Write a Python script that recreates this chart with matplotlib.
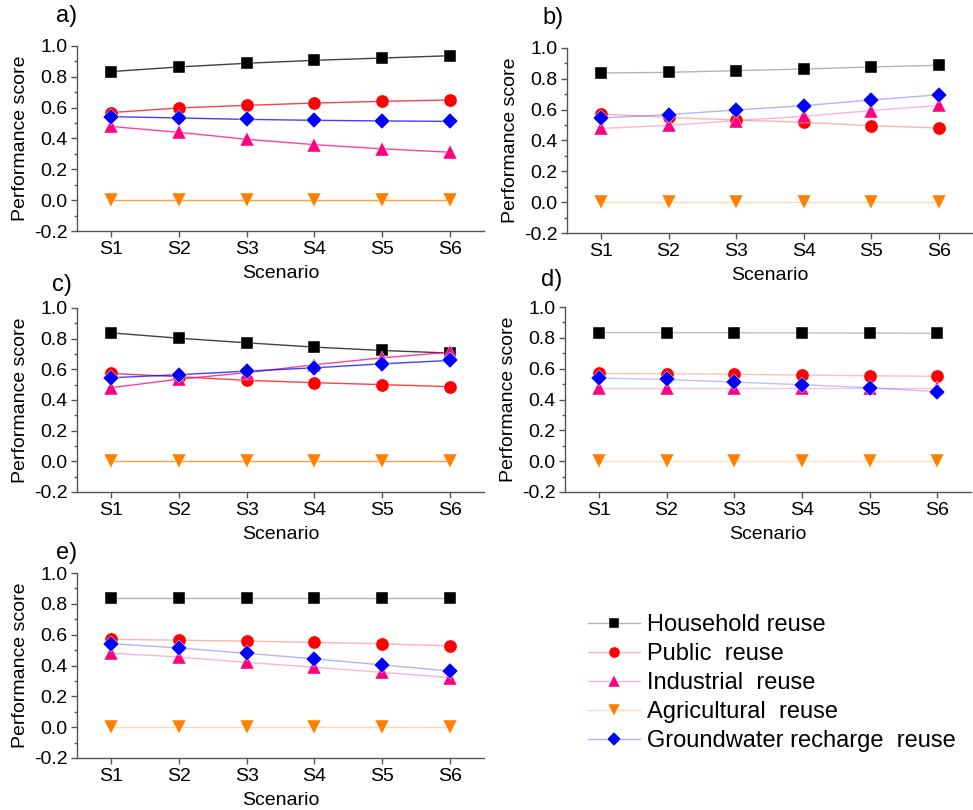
import numpy as np
import matplotlib.pyplot as plt
from matplotlib.ticker import MultipleLocator
from matplotlib.lines import Line2D
from matplotlib.colors import to_rgba

plt.rcParams['font.family'] = ['Liberation Sans', 'DejaVu Sans']

scenarios = ['S1', 'S2', 'S3', 'S4', 'S5', 'S6']
series_names = ['Household reuse', 'Public  reuse', 'Industrial  reuse',
                'Agricultural  reuse', 'Groundwater recharge  reuse']
panel_labels = ['a)', 'b)', 'c)', 'd)', 'e)']

# performance scores per panel (household, public, industrial, agricultural, groundwater)
household_a = [0.834, 0.864, 0.888, 0.907, 0.922, 0.937]
public_a = [0.568, 0.598, 0.615, 0.630, 0.641, 0.650]
industrial_a = [0.478, 0.440, 0.395, 0.360, 0.333, 0.311]
agricultural_a = [0.0, 0.0, 0.0, 0.0, 0.0, 0.0]
groundwater_a = [0.542, 0.533, 0.524, 0.518, 0.514, 0.511]

household_b = [0.838, 0.842, 0.853, 0.864, 0.877, 0.888]
public_b = [0.572, 0.550, 0.533, 0.518, 0.496, 0.481]
industrial_b = [0.478, 0.498, 0.529, 0.557, 0.594, 0.628]
agricultural_b = [0.0, 0.0, 0.0, 0.0, 0.0, 0.0]
groundwater_b = [0.546, 0.568, 0.598, 0.626, 0.663, 0.697]

household_c = [0.838, 0.803, 0.773, 0.745, 0.723, 0.706]
public_c = [0.573, 0.552, 0.528, 0.513, 0.500, 0.487]
industrial_c = [0.480, 0.536, 0.578, 0.630, 0.675, 0.712]
agricultural_c = [0.0, 0.0, 0.0, 0.0, 0.0, 0.0]
groundwater_c = [0.545, 0.565, 0.588, 0.610, 0.636, 0.658]

household_d = [0.834, 0.834, 0.833, 0.832, 0.831, 0.829]
public_d = [0.569, 0.567, 0.564, 0.558, 0.554, 0.550]
industrial_d = [0.477, 0.477, 0.477, 0.477, 0.477, 0.477]
agricultural_d = [0.0, 0.0, 0.0, 0.0, 0.0, 0.0]
groundwater_d = [0.539, 0.530, 0.513, 0.496, 0.476, 0.451]

household_e = [0.838, 0.838, 0.838, 0.838, 0.838, 0.838]
public_e = [0.570, 0.564, 0.558, 0.550, 0.541, 0.527]
industrial_e = [0.480, 0.455, 0.420, 0.389, 0.355, 0.322]
agricultural_e = [0.0, 0.0, 0.0, 0.0, 0.0, 0.0]
groundwater_e = [0.542, 0.514, 0.479, 0.443, 0.404, 0.364]

panels = [
    [household_a, public_a, industrial_a, agricultural_a, groundwater_a],
    [household_b, public_b, industrial_b, agricultural_b, groundwater_b],
    [household_c, public_c, industrial_c, agricultural_c, groundwater_c],
    [household_d, public_d, industrial_d, agricultural_d, groundwater_d],
    [household_e, public_e, industrial_e, agricultural_e, groundwater_e],
]

colors = ['black', '#ff0000', '#ff0080', '#ff8000', '#0000ff']
markers = ['s', 'o', '^', 'v', 'D']
msizes = [8.5, 9.5, 10, 10, 8.5]
# lines look fainter in b, d, e
line_alpha = [0.75, 0.3, 0.75, 0.25, 0.3]

W, H = 973, 810
# axes boxes in pixels: left, top, right, bottom
boxes = [(77, 46, 484, 231), (567, 48, 973, 233),
         (77, 308, 484, 492), (565, 307, 971, 492),
         (77, 573, 484, 758)]
label_pos = [(67, 16), (553, 18), (62, 285), (552, 280), (67, 553)]

fig = plt.figure(figsize=(W / 100, H / 100), dpi=100)
x = np.arange(1, 7)
yt = np.round(np.arange(-0.2, 1.01, 0.2), 1)

for p, (vals, box) in enumerate(zip(panels, boxes)):
    l, t, r, b = box
    ax = fig.add_axes([l / W, 1 - b / H, (r - l) / W, (b - t) / H])
    for i, v in enumerate(vals):
        ax.plot(x, v, color=colors[i], lw=1.0, alpha=line_alpha[p], zorder=2)
        ax.plot(x, v, ls='none', marker=markers[i], ms=msizes[i],
                color=colors[i], mec='white', mew=0.3, zorder=3)
    ax.set_xlim(0.5, 6.5)
    ax.set_ylim(-0.2, 1.0)
    ax.set_xticks(x)
    ax.set_xticklabels(scenarios)
    ax.set_yticks(yt)
    ax.set_yticklabels(['%.1f' % y for y in yt])
    ax.yaxis.set_minor_locator(MultipleLocator(0.1))
    ax.spines['top'].set_visible(False)
    ax.spines['right'].set_visible(False)
    for s in ['left', 'bottom']:
        ax.spines[s].set_color('#555555')
        ax.spines[s].set_linewidth(1.0)
    ax.tick_params(axis='both', which='major', direction='out', length=4,
                   width=1, color='#555555', labelsize=14, pad=3)
    ax.tick_params(axis='y', which='minor', direction='out', length=2.5,
                   width=1, color='#555555')
    ax.set_xlabel('Scenario', fontsize=14, labelpad=5)
    ax.set_ylabel('Performance score', fontsize=14, labelpad=3)
    lx, ly = label_pos[p]
    fig.text(lx / W, 1 - ly / H, panel_labels[p], fontsize=17, va='center', ha='center')

# legend in the empty bottom-right slot: faint line, solid marker in the middle
handles = []
for i in range(5):
    handles.append(Line2D([], [], color=to_rgba(colors[i], 0.3), lw=1.0,
                          marker=markers[i], ms=msizes[i] - 1.5,
                          mfc=colors[i], mec='white', mew=0.3))
fig.legend(handles, series_names, loc='upper left',
           bbox_to_anchor=(588 / W, 1 - 614 / H), frameon=False,
           fontsize=17, handlelength=2.2, handletextpad=0.3,
           labelspacing=0.3, borderpad=0, borderaxespad=0, numpoints=1)

fig.savefig('out.png', dpi=100)
